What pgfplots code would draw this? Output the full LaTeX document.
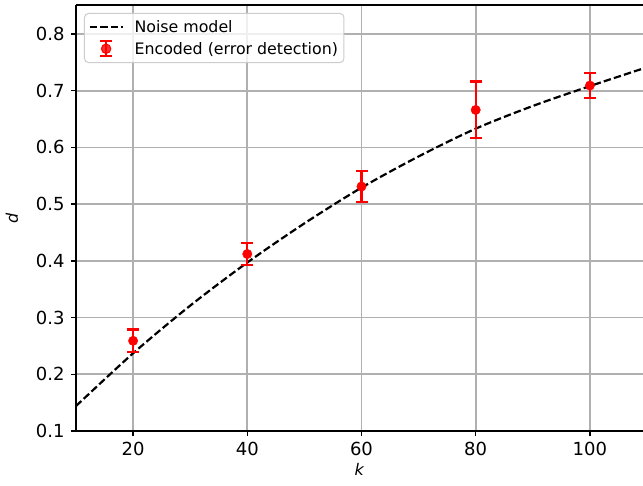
\documentclass[border=0pt]{standalone}
\usepackage{pgfplots}
\pgfplotsset{compat=1.18}
\usepackage{fontspec}
\setmainfont{DejaVu Sans}
\definecolor{gridgray}{RGB}{176,176,176}
\definecolor{legbd}{RGB}{204,204,204}
\begin{document}
\begin{tikzpicture}
\begin{axis}[
  scale only axis, width=567pt, height=426pt,
  xmin=10, xmax=109.3, ymin=0.1, ymax=0.851,
  clip=false,
  axis x line*=bottom, axis y line*=left,
  axis line style={-, line width=1.9pt, black},
  tick align=outside,
  major tick length=5pt,
  tick style={black, line width=1.5pt},
  xtick={20,40,60,80,100},
  ytick={0.1,0.2,0.3,0.4,0.5,0.6,0.7,0.8},
  grid=major,
  grid style={gridgray, line width=1.7pt},
  /pgf/number format/assume math mode=true,
  yticklabel style={/pgf/number format/fixed, /pgf/number format/fixed zerofill, /pgf/number format/precision=1, xshift=-3pt},
  ticklabel style={font=\fontsize{18}{21}\selectfont},
  xticklabel style={yshift=-3pt},
  xlabel={\textit{k}},
  ylabel={\textit{d}},
  every axis y label/.style={at={(axis description cs:-0.1129,0.5)}, rotate=90, anchor=center},
  label style={font=\fontsize{16}{19}\selectfont},
  legend style={at={(0,1)}, anchor=north west, xshift=8pt, yshift=-8pt,
    draw=legbd, line width=1pt, rounded corners=4pt, fill=white, fill opacity=0.8, text opacity=1,
    font=\fontsize{15.8}{19}\selectfont, row sep=4pt, inner xsep=4pt, inner ysep=5pt},
  legend cell align=left,
]
\coordinate (sw) at (rel axis cs:0,0);
\addplot[black, line width=2.2pt, dash pattern=on 7.4pt off 3.2pt, smooth,
  legend image code/.code={\draw[black, line width=2.2pt, dash pattern=on 7.4pt off 3.2pt] (0pt,0pt) -- (33pt,0pt);
   \path[draw=none, fill=none] (0pt,0pt) -- (43pt,0pt);}]
  coordinates {(10,0.144) (20,0.237) (30,0.321) (40,0.397) (50,0.466) (60,0.529)
    (70,0.584) (80,0.633) (90,0.673) (100,0.708) (109.3,0.739)};
\addlegendentry{Noise model}
\addplot[red, only marks, mark=*, mark size=4.7pt,
  legend image code/.code={
   \draw[red, line width=2.2pt] (16.5pt,-7.5pt) -- (16.5pt,7.5pt);
   \draw[red, line width=2.2pt] (10.5pt,-7.5pt) -- (22.5pt,-7.5pt);
   \draw[red, line width=2.2pt] (10.5pt,7.5pt) -- (22.5pt,7.5pt);
   \fill[red] (16.5pt,0pt) circle (4.7pt);
   \path[draw=none, fill=none] (0pt,0pt) -- (43pt,0pt);},
  error bars/.cd, y dir=both, y explicit,
  error bar style={line width=2.2pt, red},
  error mark options={rotate=90, mark size=6pt, line width=2.2pt, red}]
  coordinates {(20,0.259) +- (0,0.020) (40,0.412) +- (0,0.020) (60,0.531) +- (0,0.027)
    (80,0.666) +- (0,0.050) (100,0.709) +- (0,0.022)};
\addlegendentry{Encoded (error detection)}
\draw[line width=1.9pt, black] (rel axis cs:0,1) -- (rel axis cs:1,1);
\end{axis}
\pgfresetboundingbox
\path (sw) ++(-76pt,-54pt) rectangle ++(643pt,485pt);
\end{tikzpicture}
\end{document}
